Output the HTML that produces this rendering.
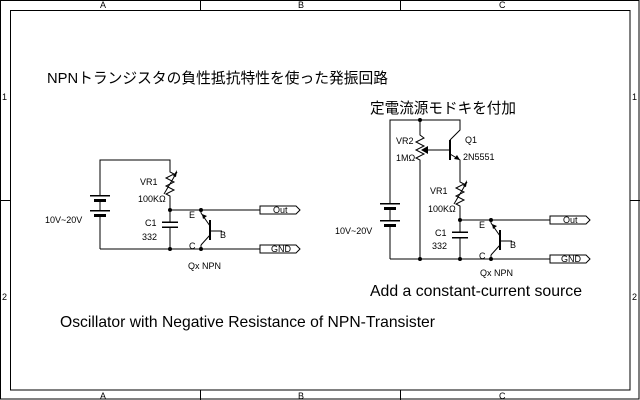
<!DOCTYPE html>
<html><head><meta charset="utf-8"><style>
html,body{margin:0;padding:0;background:#fff;}
svg{display:block;}
text{font-family:"Liberation Sans","Noto Sans CJK JP",sans-serif;fill:#000;}
.s{font-size:9px;}
</style></head><body>
<svg width="640" height="400" viewBox="0 0 640 400" xmlns="http://www.w3.org/2000/svg">
<rect x="0" y="0" width="640" height="400" fill="#fff"/>
<g fill="none" stroke="#000" stroke-width="1">
<rect x="0.5" y="0.5" width="638.5" height="398.5"/>
<rect x="10.5" y="10.5" width="619.5" height="379.5"/>
<line x1="200.5" y1="0" x2="200.5" y2="10"/>
<line x1="400.5" y1="0" x2="400.5" y2="10"/>
<line x1="200.5" y1="390" x2="200.5" y2="400"/>
<line x1="400.5" y1="390" x2="400.5" y2="400"/>
<line x1="0" y1="200.5" x2="10" y2="200.5"/>
<line x1="630" y1="200.5" x2="640" y2="200.5"/>
</g>
<g class="s">
<text x="100" y="8">A</text><text x="298" y="8">B</text><text x="499" y="8">C</text>
<text x="100" y="399">A</text><text x="298" y="399">B</text><text x="499" y="399">C</text>
<text x="2" y="100">1</text><text x="2" y="300">2</text>
<text x="632" y="100">1</text><text x="632" y="300">2</text>
</g>
<text x="47" y="83" font-size="15" textLength="341" lengthAdjust="spacingAndGlyphs">NPNトランジスタの負性抵抗特性を使った発振回路</text>
<text x="370" y="113" font-size="15" textLength="146" lengthAdjust="spacingAndGlyphs">定電流源モドキを付加</text>
<text x="370" y="296" font-size="16" textLength="212" lengthAdjust="spacingAndGlyphs">Add a constant-current source</text>
<text x="60" y="327" font-size="16" textLength="375" lengthAdjust="spacingAndGlyphs">Oscillator with Negative Resistance of NPN-Transister</text>

<!-- LEFT CIRCUIT -->
<g fill="none" stroke="#000" stroke-width="1">
<polyline points="100,196 100,160 170,160 170,170"/>
<polyline points="170,170 170,172 174,174 166,178 174,182 166,186 174,190 166,194 170,196 170,210"/>
<line x1="164" y1="194" x2="177" y2="172"/>
<line x1="170" y1="210" x2="260" y2="210"/>
<line x1="170" y1="210" x2="170" y2="222"/>
<line x1="170" y1="227" x2="170" y2="249"/>
<line x1="100" y1="215" x2="100" y2="249"/>
<line x1="100" y1="249" x2="260" y2="249"/>
<line x1="100" y1="200" x2="100" y2="211"/>
<line x1="201" y1="210" x2="201" y2="213"/>
<line x1="201" y1="213" x2="210" y2="226"/>
<line x1="201" y1="249" x2="201" y2="245"/>
<line x1="201" y1="245" x2="210" y2="235"/>
<line x1="210" y1="231" x2="222" y2="231"/>
<polygon points="260,206 296,206 300,210 296,214 260,214"/>
<polygon points="260,245 296,245 300,249 296,253 260,253"/>
</g>
<g fill="#000">
<polygon points="177,170 173,176 176,177"/>
<rect x="90" y="195" width="20" height="1.5"/><rect x="94" y="199" width="12" height="3"/>
<rect x="90" y="210" width="20" height="1.5"/><rect x="94" y="214" width="12" height="3"/>
<rect x="162" y="221.5" width="16" height="1.5"/><rect x="162" y="226.5" width="16" height="1.5"/>
<rect x="209" y="220" width="2" height="20"/>
<polygon points="202,214 207,216 203,219"/>
<circle cx="170" cy="210" r="2"/><circle cx="201" cy="210" r="2"/>
<circle cx="170" cy="249" r="2"/><circle cx="201" cy="249" r="2"/>
</g>
<g class="s">
<text x="140" y="185">VR1</text><text x="138" y="202">100KΩ</text>
<text x="145" y="226">C1</text><text x="142" y="240">332</text>
<text x="189" y="218">E</text><text x="189" y="249">C</text><text x="220" y="238">B</text>
<text x="188" y="269">Qx NPN</text>
<text x="45" y="223">10V~20V</text>
<text x="273" y="213">Out</text><text x="271" y="252">GND</text>
</g>

<!-- RIGHT CIRCUIT -->
<g fill="none" stroke="#000" stroke-width="1">
<polyline points="390,204 390,120 460,120 460,130 450,140"/>
<polyline points="420,120 420,135 424,138 416,142 424,146 416,150 424,154 416,158 420,160 420,259"/>
<line x1="450" y1="150" x2="426" y2="150"/>
<polyline points="450,154 460,160 460,180"/>
<polyline points="460,180 460,182 464,184 456,188 464,192 456,196 464,200 456,204 460,206 460,220"/>
<line x1="454" y1="204" x2="467" y2="182"/>
<line x1="460" y1="220" x2="550" y2="220"/>
<line x1="460" y1="220" x2="460" y2="232"/>
<line x1="460" y1="238" x2="460" y2="259"/>
<line x1="390" y1="208" x2="390" y2="221"/>
<line x1="390" y1="225" x2="390" y2="259"/>
<line x1="390" y1="259" x2="550" y2="259"/>
<line x1="491" y1="220" x2="491" y2="223"/>
<line x1="491" y1="223" x2="500" y2="236"/>
<line x1="491" y1="259" x2="491" y2="255"/>
<line x1="491" y1="255" x2="500" y2="245"/>
<line x1="500" y1="241" x2="512" y2="241"/>
<polygon points="550,216 586,216 590,220 586,224 550,224"/>
<polygon points="550,255 586,255 590,259 586,263 550,263"/>
</g>
<g fill="#000">
<polygon points="467,180 463,186 466,187"/>
<polygon points="421,150 428,146 428,154"/>
<polygon points="460,160 454,159 457,155"/>
<rect x="449" y="140" width="2" height="20"/>
<rect x="380" y="203" width="20" height="1.5"/><rect x="384" y="207" width="12" height="3"/>
<rect x="380" y="220" width="20" height="1.5"/><rect x="384" y="224" width="12" height="3"/>
<rect x="452" y="231.5" width="16" height="1.5"/><rect x="452" y="237" width="16" height="1.5"/>
<rect x="499" y="230" width="2" height="20"/>
<polygon points="492,224 497,226 493,229"/>
<circle cx="420" cy="120" r="2"/>
<circle cx="460" cy="220" r="2"/><circle cx="491" cy="220" r="2"/>
<circle cx="420" cy="259" r="2"/><circle cx="460" cy="259" r="2"/><circle cx="491" cy="259" r="2"/>
</g>
<g class="s">
<text x="396" y="144">VR2</text><text x="396" y="161">1MΩ</text>
<text x="465" y="143">Q1</text><text x="463" y="160">2N5551</text>
<text x="430" y="194">VR1</text><text x="428" y="212">100KΩ</text>
<text x="435" y="236">C1</text><text x="432" y="249">332</text>
<text x="479" y="228">E</text><text x="479" y="259">C</text><text x="510" y="248">B</text>
<text x="480" y="276">Qx NPN</text>
<text x="335" y="234">10V~20V</text>
<text x="563" y="223">Out</text><text x="561" y="262">GND</text>
</g>
</svg>
</body></html>
